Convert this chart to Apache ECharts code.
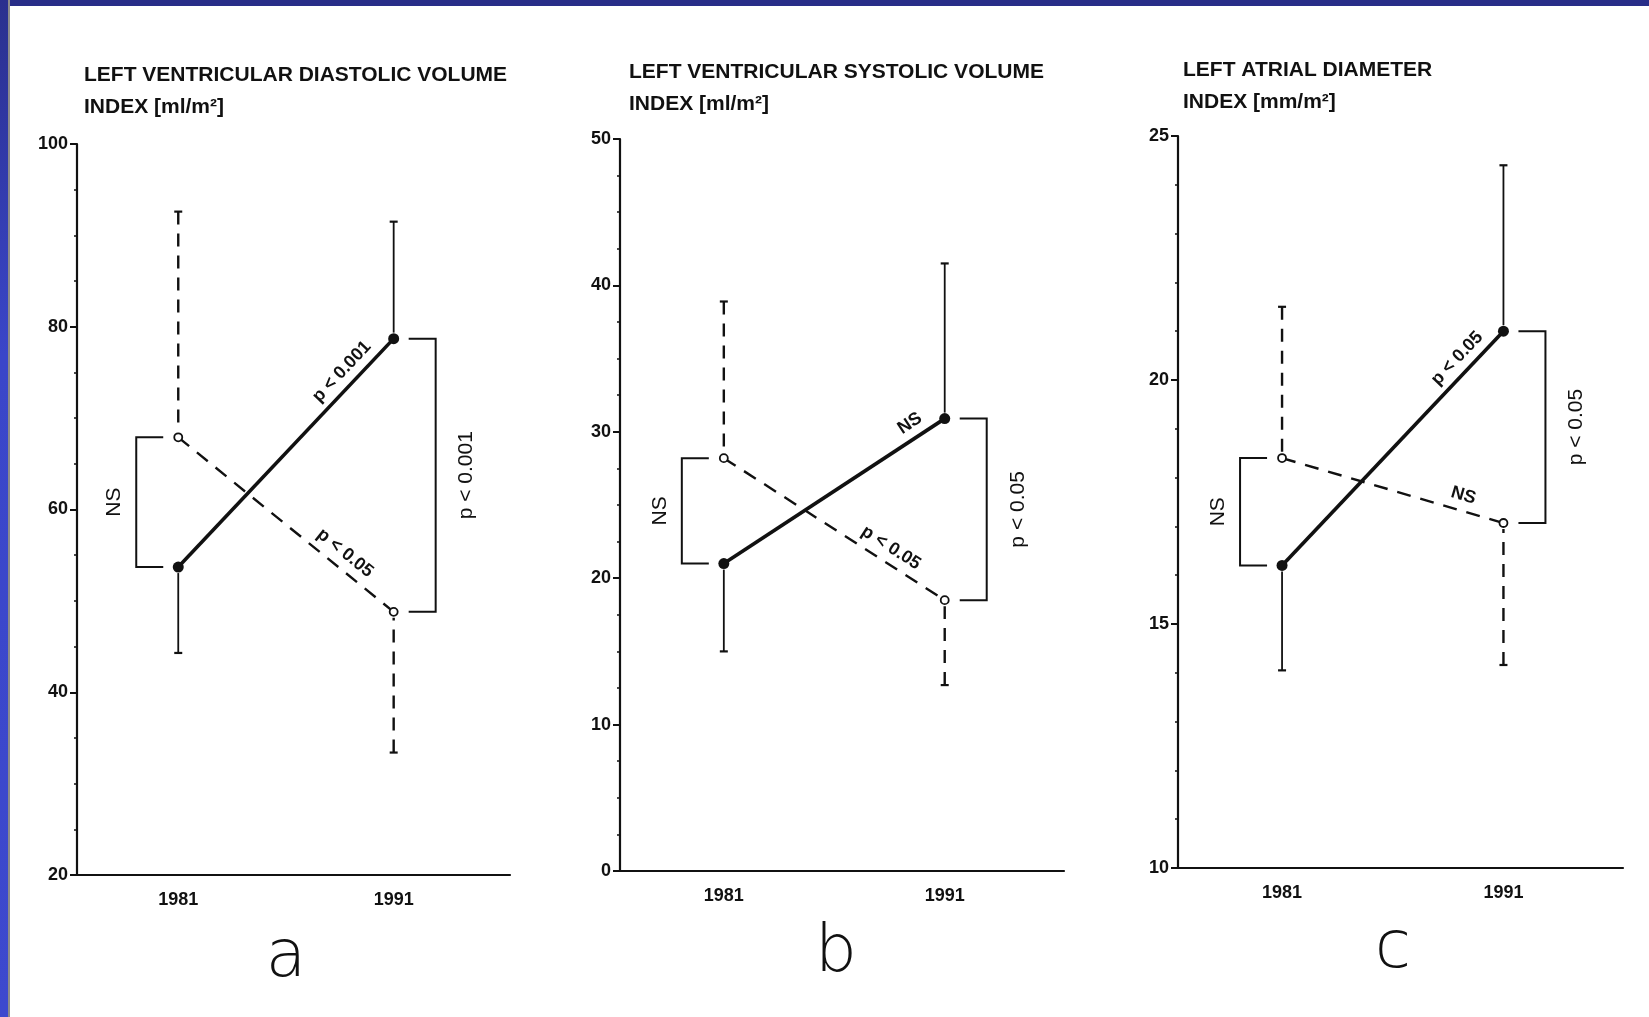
<!DOCTYPE html>
<html>
<head>
<meta charset="utf-8">
<title>LV volumes and LA diameter 1981 / 1991</title>
<script src="https://cdn.jsdelivr.net/npm/echarts@6/dist/echarts.min.js"></script>
<style>
  html, body { margin: 0; padding: 0; background: #fff; }
  #main { position: absolute; left: 0; top: 0; width: 1649px; height: 1017px; }
  .band-top { position: absolute; left: 0; top: 0; width: 1649px; height: 6px; background: #282d88; z-index: 5; }
  .band-left { position: absolute; left: 0; top: 0; width: 8px; height: 1017px; z-index: 5;
               background: linear-gradient(#2a308e, #3a46c9 35%, #3d49ce); border-right: 2px solid #8c8c8c; }
</style>
</head>
<body>
<div id="main"></div>
<div class="band-top"></div>
<div class="band-left"></div>
<script>
  const years = [1981, 1991];

  // a - left ventricular diastolic volume index
  const lvdviFilled = [53.7, 78.7];
  const lvdviFilledBar = [44.3, 91.5];   // 1981 lower end, 1991 upper end
  const lvdviOpen = [67.9, 48.8];
  const lvdviOpenBar = [92.6, 33.4];     // 1981 upper end, 1991 lower end
  const lvdviText = ['p < 0.001', 'p < 0.05', 'NS', 'p < 0.001']; // filled line, open line, 1981 bracket, 1991 bracket

  // b - left ventricular systolic volume index
  const lvsviFilled = [21.0, 30.9];
  const lvsviFilledBar = [15.0, 41.5];
  const lvsviOpen = [28.2, 18.5];
  const lvsviOpenBar = [38.9, 12.7];
  const lvsviText = ['NS', 'p < 0.05', 'NS', 'p < 0.05'];

  // c - left atrial diameter index
  const ladiFilled = [16.2, 21.0];
  const ladiFilledBar = [14.05, 24.4];
  const ladiOpen = [18.4, 17.07];
  const ladiOpenBar = [21.5, 14.16];
  const ladiText = ['p < 0.05', 'NS', 'NS', 'p < 0.05'];

  const xLabels = [1981, 1991];

  const ink = '#111';
  const baseFont = 'Liberation Sans, Arial, sans-serif';

  const panels = [
    {
      title: 'LEFT VENTRICULAR DIASTOLIC VOLUME\nINDEX [ml/m²]', letter: 'a',
      filled: lvdviFilled, filledBar: lvdviFilledBar, open: lvdviOpen, openBar: lvdviOpenBar, text: lvdviText,
      yMin: 20, yMax: 100, yStep: 20, minor: 4,
      grid: {left: 77, top: 144, width: 433, height: 731},
      titlePos: {left: 79, top: 54}, letterPos: [286, 959],
      along: [0.81, 0.73]
    },
    {
      title: 'LEFT VENTRICULAR SYSTOLIC VOLUME\nINDEX [ml/m²]', letter: 'b',
      filled: lvsviFilled, filledBar: lvsviFilledBar, open: lvsviOpen, openBar: lvsviOpenBar, text: lvsviText,
      yMin: 0, yMax: 50, yStep: 10, minor: 4,
      grid: {left: 620, top: 139, width: 444, height: 732},
      titlePos: {left: 624, top: 51}, letterPos: [836, 954],
      along: [0.88, 0.72]
    },
    {
      title: 'LEFT ATRIAL DIAMETER\nINDEX [mm/m²]', letter: 'c',
      filled: ladiFilled, filledBar: ladiFilledBar, open: ladiOpen, openBar: ladiOpenBar, text: ladiText,
      yMin: 10, yMax: 25, yStep: 5, minor: 5,
      grid: {left: 1178, top: 136, width: 445, height: 732},
      titlePos: {left: 1178, top: 49}, letterPos: [1393, 950],
      along: [0.84, 0.80]
    }
  ];

  function textStyle(str, size, weight) {
    return {text: str, fill: ink, fontSize: size, fontWeight: weight || 'normal', fontFamily: baseFont,
            align: 'center', verticalAlign: 'middle'};
  }

  // error bar: from the cap back to the marker
  function renderBar(dashed) {
    return function (params, api) {
      const p0 = api.coord([api.value(0), api.value(1)]);
      const p1 = api.coord([api.value(0), api.value(2)]);
      const dir = p1[1] > p0[1] ? 1 : -1;
      return {
        type: 'group',
        children: [
          {
            type: 'line',
            shape: {x1: p1[0], y1: p1[1], x2: p0[0], y2: p0[1] + dir * 6},
            style: {stroke: ink, lineWidth: dashed ? 2.4 : 1.8, lineDash: dashed ? [13, 9] : null}
          },
          {
            type: 'line',
            shape: {x1: p1[0] - 4, y1: p1[1], x2: p1[0] + 4, y2: p1[1]},
            style: {stroke: ink, lineWidth: 2.2}
          }
        ]
      };
    };
  }

  // significance bracket between the two means of one year
  function renderBracket(texts) {
    return function (params, api) {
      const side = params.dataIndex === 0 ? -1 : 1;
      const a = api.coord([api.value(0), api.value(1)]);
      const b = api.coord([api.value(0), api.value(2)]);
      const xs = a[0] + side * 15;
      const xe = a[0] + side * 42;
      const off = side < 0 ? 22 : 31;
      return {
        type: 'group',
        children: [
          {
            type: 'polyline',
            shape: {points: [[xs, a[1]], [xe, a[1]], [xe, b[1]], [xs, b[1]]]},
            style: {stroke: ink, lineWidth: 2, fill: 'none'}
          },
          {
            type: 'text', x: xe + side * off, y: (a[1] + b[1]) / 2, rotation: Math.PI / 2,
            style: textStyle(texts[2 + params.dataIndex], 21)
          }
        ]
      };
    };
  }

  // p-value written along the connecting line
  function renderSlopeText(texts, along) {
    return function (params, api) {
      const p1 = api.coord([api.value(0), api.value(1)]);
      const p2 = api.coord([api.value(2), api.value(3)]);
      const t = along[params.dataIndex];
      const dx = p2[0] - p1[0], dy = p2[1] - p1[1];
      const len = Math.hypot(dx, dy);
      const nx = dy / len, ny = -dx / len;
      return {
        type: 'text',
        x: p1[0] + dx * t + nx * 15,
        y: p1[1] + dy * t + ny * 15,
        rotation: Math.atan2(-dy, dx),
        style: textStyle(texts[params.dataIndex], 18, 'bold')
      };
    };
  }

  const chart = echarts.init(document.getElementById('main'));

  const grids = [], xAxes = [], yAxes = [], series = [], titles = [], graphics = [];

  panels.forEach(function (p, i) {
    grids.push(p.grid);
    xAxes.push({
      type: 'value', gridIndex: i, min: 1976.3, max: 1996.4,
      axisLine: {lineStyle: {color: ink, width: 2.2}},
      axisTick: {show: false},
      splitLine: {show: false},
      axisLabel: {
        customValues: xLabels, color: ink, fontSize: 18, fontWeight: 'bold', fontFamily: baseFont, margin: 16,
        formatter: function (v) { return String(v); }
      }
    });
    yAxes.push({
      type: 'value', gridIndex: i, min: p.yMin, max: p.yMax, interval: p.yStep,
      axisLine: {show: true, lineStyle: {color: ink, width: 2.2}},
      axisTick: {show: true, length: 7, lineStyle: {color: ink, width: 2}},
      minorTick: {show: true, splitNumber: p.minor, length: 3, lineStyle: {color: ink, width: 1.5}},
      splitLine: {show: false},
      axisLabel: {color: ink, fontSize: 18, fontWeight: 'bold', fontFamily: baseFont, margin: 9}
    });
    titles.push({
      text: p.title, left: p.titlePos.left, top: p.titlePos.top,
      textStyle: {color: ink, fontSize: 21, fontWeight: 'bold', fontFamily: baseFont, lineHeight: 32}
    });
    graphics.push({
      type: 'text', x: p.letterPos[0], y: p.letterPos[1],
      style: {text: p.letter, fill: ink, fontSize: 66, fontWeight: 200, fontFamily: 'DejaVu Sans, sans-serif',
              align: 'center', verticalAlign: 'middle'}
    });

    series.push(
      {
        type: 'line', xAxisIndex: i, yAxisIndex: i, z: 4,
        data: years.map(function (y, k) { return [y, p.open[k]]; }),
        symbol: 'circle', symbolSize: 8,
        lineStyle: {color: ink, width: 2.4, type: [14, 10]},
        itemStyle: {color: '#fff', borderColor: ink, borderWidth: 1.8}
      },
      {
        type: 'line', xAxisIndex: i, yAxisIndex: i, z: 5,
        data: years.map(function (y, k) { return [y, p.filled[k]]; }),
        symbol: 'circle', symbolSize: 11,
        lineStyle: {color: ink, width: 3.6},
        itemStyle: {color: ink}
      },
      {
        type: 'custom', xAxisIndex: i, yAxisIndex: i, z: 3,
        data: years.map(function (y, k) { return [y, p.filled[k], p.filledBar[k]]; }),
        renderItem: renderBar(false)
      },
      {
        type: 'custom', xAxisIndex: i, yAxisIndex: i, z: 3,
        data: years.map(function (y, k) { return [y, p.open[k], p.openBar[k]]; }),
        renderItem: renderBar(true)
      },
      {
        type: 'custom', xAxisIndex: i, yAxisIndex: i, z: 3,
        data: years.map(function (y, k) { return [y, p.filled[k], p.open[k]]; }),
        renderItem: renderBracket(p.text)
      },
      {
        type: 'custom', xAxisIndex: i, yAxisIndex: i, z: 6,
        data: [
          [years[0], p.filled[0], years[1], p.filled[1]],
          [years[0], p.open[0], years[1], p.open[1]]
        ],
        renderItem: renderSlopeText(p.text, p.along)
      }
    );
  });

  chart.setOption({
    backgroundColor: '#fff',
    animation: false,
    title: titles,
    grid: grids,
    xAxis: xAxes,
    yAxis: yAxes,
    graphic: graphics,
    series: series
  });
</script>
</body>
</html>
